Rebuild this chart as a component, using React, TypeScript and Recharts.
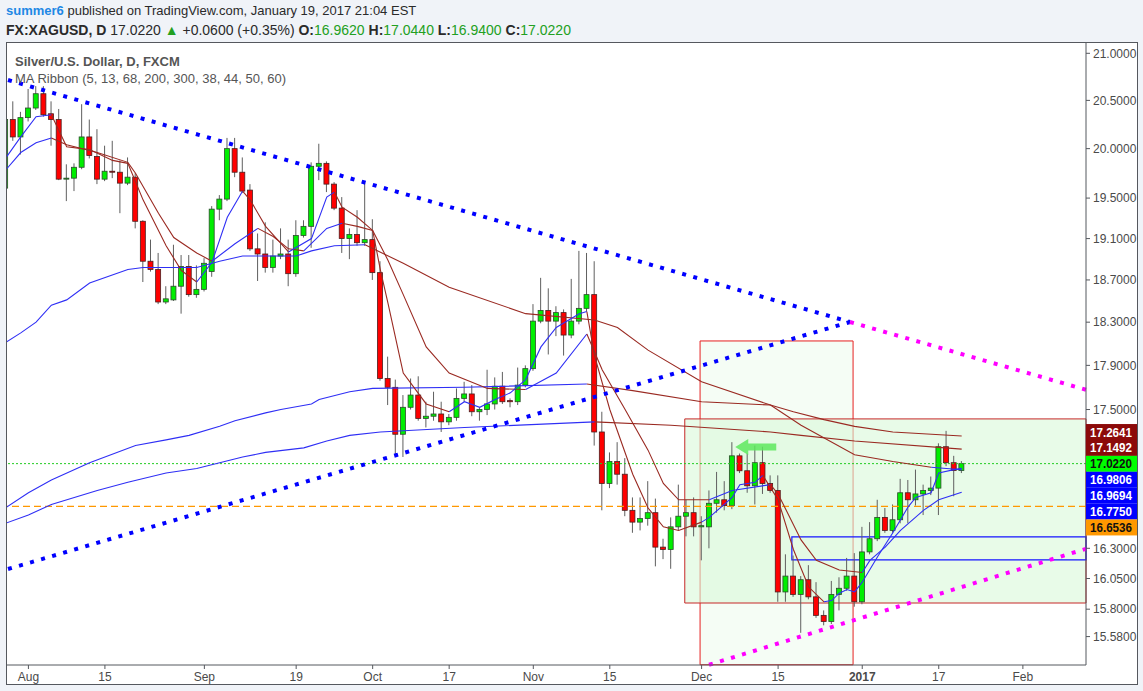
import React from "react";
import {
  ComposedChart,
  Bar,
  Line,
  XAxis,
  YAxis,
  ReferenceLine,
  ReferenceArea,
  ReferenceDot,
} from "recharts";

// daily XAG/USD bars, index 0 = Jul 27 2016 ... 125 = Jan 20 2017
const openP = [
  19.6, 20.3, 20.12, 20.32, 20.42, 20.57, 20.36, 20.3, 19.69, 19.7,
  19.81, 20.12, 19.92, 19.69, 19.77, 19.76, 19.65, 19.71, 19.27, 18.88,
  18.8, 18.49, 18.51, 18.64, 18.83, 18.56, 18.61, 18.78, 19.39, 19.49,
  20.0, 19.76, 19.58, 19.0, 18.95, 18.82, 18.93, 18.95, 18.76, 19.13,
  19.22, 19.82, 19.85, 19.64, 19.4, 19.1, 19.14, 19.06, 19.09, 18.77,
  17.78, 17.7, 17.28, 17.52, 17.63, 17.42, 17.44, 17.46, 17.39, 17.43,
  17.6, 17.64, 17.48, 17.5, 17.55, 17.71, 17.58, 17.57, 17.72, 17.87,
  18.31, 18.41, 18.31, 18.39, 18.18, 18.31, 18.43, 18.56, 17.3, 16.85,
  17.04, 16.93, 16.62, 16.52, 16.55, 16.6, 16.31, 16.29, 16.48, 16.57,
  16.6, 16.48, 16.48, 16.68, 16.71, 16.66, 17.09, 16.96, 16.83, 17.03,
  16.85, 16.79, 15.94, 16.07, 15.92, 16.04, 15.9, 15.75, 15.7, 15.92,
  15.97, 16.07, 15.86, 16.27, 16.38, 16.56, 16.45, 16.54, 16.77, 16.71,
  16.76, 16.79, 16.81, 17.17, 17.03, 16.962,
];
const highP = [
  20.35, 20.49, 20.38, 20.62, 20.65, 20.65, 20.49, 20.41, 19.84, 19.85,
  20.46, 20.3, 20.2, 20.03, 20.08, 19.88, 19.91, 19.75, 19.28, 19.09,
  18.96, 18.64, 19.04, 18.94, 18.94, 18.84, 18.91, 19.42, 19.53, 20.11,
  20.11, 19.91, 19.64, 19.15, 19.26, 19.09, 19.2, 19.09, 19.28, 19.28,
  19.86, 20.05, 19.87, 19.66, 19.51, 19.2, 19.38, 19.65, 19.29, 18.88,
  17.98, 17.77, 17.63, 17.78, 17.8, 17.57, 17.66, 17.57, 17.46, 17.69,
  17.75, 17.72, 17.52, 17.86, 17.79, 17.84, 17.6, 17.88, 17.9, 18.47,
  18.72, 18.62, 18.45, 18.42, 18.71, 18.98, 18.96, 18.88, 17.48, 17.12,
  17.21, 17.07, 16.73, 16.73, 16.87, 16.72, 16.38, 16.56, 16.84, 16.71,
  16.73, 16.57, 16.79, 16.95, 16.87, 17.21, 17.11, 17.11, 17.18, 17.17,
  16.92, 16.92, 16.25, 16.24, 16.07, 16.16, 16.02, 15.79, 16.03, 16.06,
  16.22, 16.26, 16.48, 16.52, 16.71, 16.64, 16.67, 16.89, 16.88, 16.97,
  16.84, 16.91, 17.2, 17.31, 17.09, 17.044,
];
const lowP = [
  19.55, 20.08, 19.94, 20.28, 20.4, 20.33, 20.03, 19.68, 19.47, 19.57,
  19.79, 19.9, 19.64, 19.67, 19.7, 19.35, 19.63, 19.2, 18.68, 18.78,
  18.47, 18.47, 18.5, 18.38, 18.54, 18.53, 18.59, 18.73, 19.28, 19.47,
  19.71, 19.55, 18.98, 18.69, 18.77, 18.77, 18.9, 18.64, 18.73, 19.11,
  19.01, 19.68, 19.56, 19.38, 18.96, 18.9, 19.03, 19.03, 18.7, 17.76,
  17.54, 17.09, 17.08, 17.5, 17.4, 17.34, 17.4, 17.3, 17.36, 17.4,
  17.57, 17.44, 17.4, 17.45, 17.5, 17.55, 17.52, 17.54, 17.7, 17.85,
  18.29, 18.0, 18.17, 17.99, 18.15, 18.28, 18.4, 17.18, 16.62, 16.81,
  16.84, 16.57, 16.43, 16.45, 16.49, 16.15, 16.21, 16.13, 16.45, 16.4,
  16.4, 16.2, 16.3, 16.6, 16.62, 16.63, 16.94, 16.77, 16.67, 16.76,
  16.77, 15.86, 15.86, 15.9, 15.61, 15.88, 15.73, 15.67, 15.68, 15.79,
  15.95, 15.82, 15.84, 16.25, 16.36, 16.43, 16.43, 16.51, 16.51, 16.66,
  16.58, 16.75, 16.58, 17.0, 16.74, 16.94,
];
const closeP = [
  20.3, 20.12, 20.32, 20.42, 20.57, 20.35, 20.3, 19.69, 19.7, 19.81,
  20.12, 19.93, 19.69, 19.77, 19.76, 19.65, 19.71, 19.27, 18.88, 18.8,
  18.49, 18.52, 18.64, 18.83, 18.56, 18.61, 18.86, 19.39, 19.49, 20.0,
  19.76, 19.57, 19.0, 18.95, 18.82, 18.93, 18.95, 18.76, 19.13, 19.22,
  19.82, 19.85, 19.64, 19.4, 19.1, 19.14, 19.06, 19.09, 18.77, 17.78,
  17.7, 17.28, 17.52, 17.63, 17.42, 17.44, 17.46, 17.39, 17.43, 17.6,
  17.64, 17.48, 17.5, 17.55, 17.71, 17.57, 17.57, 17.72, 17.87, 18.31,
  18.41, 18.31, 18.39, 18.18, 18.31, 18.43, 18.56, 17.3, 16.85, 17.04,
  16.93, 16.62, 16.52, 16.55, 16.6, 16.31, 16.29, 16.48, 16.57, 16.6,
  16.48, 16.49, 16.68, 16.71, 16.66, 17.09, 16.96, 16.83, 17.03, 16.85,
  16.79, 15.94, 16.07, 15.92, 16.04, 15.9, 15.75, 15.7, 15.92, 15.97,
  16.07, 15.86, 16.27, 16.38, 16.56, 16.45, 16.54, 16.77, 16.71, 16.76,
  16.79, 16.81, 17.17, 17.03, 16.962, 17.022,
];

const tickIdx = [3, 13, 26, 38, 48, 58, 69, 79, 91, 101, 112, 122, 133];
const tickText = ["Aug", "15", "Sep", "19", "Oct", "17", "Nov", "15", "Dec", "15", "2017", "17", "Feb"];
const priceTicks = [21, 20.5, 20, 19.5, 19.1, 18.7, 18.3, 17.9, 17.5, 16.3, 16.05, 15.8, 15.58];

// MA ribbon: [bar index, value, colour of the stretch that follows]
const ma5Pts: [number, number, string][] = [
  [0, 19.9, "b"], [2, 20.12, "b"], [4, 20.33, "b"], [6, 20.35, "r"], [8, 20.02, "r"], [11, 19.99, "r"],
  [14, 19.88, "r"], [16, 19.85, "r"], [18, 19.48, "r"], [21, 19.03, "r"], [23, 18.79, "r"], [25, 18.68, "b"],
  [27, 18.87, "b"], [29, 19.31, "b"], [31, 19.57, "r"], [32, 19.48, "r"], [34, 19.22, "r"], [37, 18.97, "b"],
  [40, 19.1, "b"], [42, 19.51, "b"], [43, 19.56, "r"], [44, 19.41, "r"], [46, 19.31, "r"], [48, 19.18, "r"],
  [49, 18.8, "r"], [50, 18.48, "r"], [52, 17.83, "r"], [55, 17.55, "r"], [58, 17.48, "b"], [60, 17.57, "b"],
  [62, 17.52, "b"], [64, 17.59, "b"], [66, 17.65, "b"], [68, 17.77, "b"], [70, 18.07, "b"], [72, 18.25, "b"],
  [75, 18.38, "b"], [76, 18.4, "r"], [77, 17.99, "r"], [79, 17.5, "r"], [82, 16.93, "r"], [84, 16.64, "r"],
  [86, 16.48, "r"], [88, 16.45, "r"], [91, 16.52, "b"], [92, 16.56, "b"], [95, 16.73, "b"], [96, 16.84, "b"],
  [98, 16.86, "b"], [99, 16.92, "r"], [101, 16.71, "r"], [103, 16.29, "r"], [105, 15.98, "r"], [107, 15.86, "b"],
  [108, 15.87, "b"], [109, 15.93, "b"], [110, 15.96, "b"], [111, 15.94, "b"], [112, 16.02, "b"], [114, 16.23, "b"],
  [116, 16.43, "b"], [118, 16.65, "b"], [119, 16.73, "b"], [121, 16.77, "b"], [122, 16.94, "b"], [124, 16.97, "b"],
  [125, 16.9806, "b"],
];
const ma13Pts: [number, number, string][] = [
  [0, 19.78, "b"], [2, 19.96, "b"], [4, 20.06, "b"], [6, 20.11, "r"], [8, 20.04, "r"], [12, 19.96, "r"],
  [16, 19.86, "r"], [17, 19.75, "r"], [20, 19.35, "r"], [22, 19.11, "r"], [25, 18.96, "r"], [27, 18.88, "b"],
  [30, 19.05, "b"], [33, 19.2, "r"], [35, 19.12, "r"], [37, 19.0, "r"], [39, 18.98, "b"], [42, 19.2, "b"],
  [44, 19.25, "r"], [46, 19.22, "r"], [48, 19.18, "r"], [50, 18.89, "r"], [52, 18.56, "r"], [55, 18.07, "r"],
  [58, 17.83, "r"], [63, 17.69, "r"], [68, 17.68, "b"], [72, 17.83, "b"], [76, 18.19, "r"], [78, 17.86, "r"],
  [81, 17.5, "r"], [84, 17.14, "r"], [86, 16.85, "r"], [88, 16.71, "r"], [92, 16.71, "b"], [95, 16.79, "b"],
  [100, 16.84, "r"], [101, 16.76, "r"], [104, 16.37, "r"], [106, 16.2, "r"], [109, 16.12, "r"], [112, 16.1, "b"],
  [113, 16.2, "b"], [115, 16.31, "b"], [117, 16.45, "b"], [120, 16.62, "b"], [122, 16.71, "b"], [125, 16.775, "b"],
];
const ma68Pts: [number, number, string][] = [
  [0, 18.11, "b"], [2, 18.2, "b"], [4, 18.3, "b"], [6, 18.46, "b"], [8, 18.51, "b"], [11, 18.67, "b"],
  [16, 18.8, "b"], [18, 18.82, "b"], [25, 18.82, "b"], [28, 18.88, "b"], [31, 18.93, "b"], [38, 18.93, "b"],
  [40, 18.98, "b"], [43, 19.03, "b"], [47, 19.04, "r"], [52, 18.86, "r"], [58, 18.63, "r"], [68, 18.38, "r"],
  [77, 18.32, "r"], [80, 18.25, "r"], [84, 18.04, "r"], [91, 17.75, "r"], [100, 17.54, "r"], [104, 17.36, "r"],
  [111, 17.1, "r"], [116, 17.04, "r"], [121, 16.99, "b"], [125, 16.9694, "b"],
];
const ma200Pts: [number, number, string][] = [
  [0, 16.64, "b"], [3, 16.77, "b"], [6, 16.88, "b"], [11, 17.03, "b"], [17, 17.18, "b"], [21, 17.23, "b"],
  [24, 17.27, "b"], [28, 17.35, "b"], [30, 17.4, "b"], [34, 17.47, "b"], [36, 17.5, "b"], [40, 17.55, "b"],
  [41, 17.59, "b"], [45, 17.66, "b"], [48, 17.69, "b"], [60, 17.7, "b"], [76, 17.73, "r"], [82, 17.67, "r"],
  [91, 17.57, "r"], [100, 17.54, "r"], [103, 17.48, "r"], [107, 17.41, "r"], [111, 17.35, "r"], [116, 17.3, "r"],
  [125, 17.2641, "r"],
];
const ma300Pts: [number, number, string][] = [
  [0, 16.51, "b"], [3, 16.58, "b"], [6, 16.67, "b"], [12, 16.79, "b"], [16, 16.86, "b"], [21, 16.94, "b"],
  [25, 16.98, "b"], [28, 17.03, "b"], [31, 17.08, "b"], [34, 17.12, "b"], [39, 17.16, "b"], [42, 17.22, "b"],
  [45, 17.27, "b"], [49, 17.3, "b"], [60, 17.34, "b"], [77, 17.39, "r"], [87, 17.36, "r"], [100, 17.3, "r"],
  [104, 17.27, "r"], [111, 17.22, "r"], [125, 17.1492, "r"],
];

// drawings
const upperTrend = [{ x: 0.33, y: 20.715 }, { x: 110.4, y: 18.302 }];
const upperTrendExt = [{ x: 110.4, y: 18.302 }, { x: 141.25, y: 17.678 }];
const lowerTrend = [{ x: 0.33, y: 16.128 }, { x: 110.4, y: 18.302 }];
const lowerTrendExt = [{ x: 91.97, y: 15.357 }, { x: 141.25, y: 16.296 }];
const boxTall = { x1: 90.8, x2: 110.8, y1: 15.357, y2: 18.125 };
const boxWide = { x1: 88.8, x2: 141.25, y1: 15.85, y2: 17.416 };
const boxBlue = { x1: 102.8, x2: 141.25, y1: 16.203, y2: 16.395 };
const arrowAt = { x: 95.4, y: 17.167 };
const orangeLevel = 16.6536;
const lastPrice = 17.022;

const priceTags = [
  { v: 17.2641, bg: "#8c0a0a", fg: "#ffffff" },
  { v: 17.1492, bg: "#8c0a0a", fg: "#ffffff" },
  { v: 17.022, bg: "#00ff00", fg: "#111111" },
  { v: 16.9806, bg: "#0000ff", fg: "#ffffff" },
  { v: 16.9694, bg: "#0000ff", fg: "#ffffff" },
  { v: 16.775, bg: "#0000ff", fg: "#ffffff" },
  { v: 16.6536, bg: "#ff9800", fg: "#111111" },
];

const candles = openP.map((o, i) => ({
  i,
  open: o,
  high: highP[i],
  low: lowP[i],
  close: closeP[i],
}));

const BLUE = "#2f2ff5";
const MAROON = "#9a2a22";
const FONT = '"Liberation Sans", Arial, sans-serif';

function segments(pts: [number, number, string][]) {
  const segs: { color: string; data: { i: number; v: number }[] }[] = [];
  let cur: { color: string; data: { i: number; v: number }[] } | null = null;
  pts.forEach(([i, v, c]) => {
    if (!cur || cur.color !== c) {
      if (cur) cur.data.push({ i, v });
      cur = { color: c, data: [] };
      segs.push(cur);
    }
    cur.data.push({ i, v });
  });
  return segs.filter((s) => s.data.length > 1);
}

const ribbon = [ma300Pts, ma200Pts, ma68Pts, ma13Pts, ma5Pts].flatMap((pts) => segments(pts));

const Candle = (props: any) => {
  const { x, y, width, height, payload } = props;
  if (x == null || y == null) return null;
  const top = Math.min(y, y + height);
  const h = Math.abs(height);
  const cx = x + width / 2;
  const lh = Math.log(payload.high);
  const ll = Math.log(payload.low);
  const toY = (p: number) => (lh === ll ? top : top + ((lh - Math.log(p)) / (lh - ll)) * h);
  const up = payload.close >= payload.open;
  const bTop = toY(Math.max(payload.open, payload.close));
  const bBot = toY(Math.min(payload.open, payload.close));
  return (
    <g>
      <line x1={cx} x2={cx} y1={top} y2={top + h} stroke="#5f5f5f" strokeWidth={1} />
      <rect
        x={cx - 2.5}
        y={bTop}
        width={5}
        height={Math.max(1, bBot - bTop)}
        fill={up ? "#00ee00" : "#ff0000"}
        stroke={up ? "#2b4a2b" : "#4a1f1f"}
        strokeWidth={0.8}
      />
    </g>
  );
};

const Arrow = (props: any) => {
  const { cx, cy } = props;
  if (cx == null) return null;
  return (
    <path
      d={`M${cx},${cy} L${cx + 13},${cy - 8} L${cx + 13},${cy - 3.5} L${cx + 41},${cy - 3.5} L${cx + 41},${cy + 3.5} L${cx + 13},${cy + 3.5} L${cx + 13},${cy + 8} Z`}
      fill="#5ee85e"
      fillOpacity={0.85}
    />
  );
};

const Tags = (props: any) => {
  const { cx, cy } = props;
  if (cx == null) return null;
  return (
    <g>
      {priceTags.map((t, k) => {
        const yc = cy - 4 + k * 15.9;
        return (
          <g key={k}>
            <rect x={cx} y={yc - 8} width={51} height={16} fill={t.bg} />
            <text
              x={cx + 4}
              y={yc + 4.5}
              fill={t.fg}
              fontSize={12}
              fontWeight="bold"
              fontFamily={FONT}
              textLength={42}
              lengthAdjust="spacingAndGlyphs"
            >
              {t.v.toFixed(4)}
            </text>
          </g>
        );
      })}
    </g>
  );
};

const XTick = (props: any) => {
  const { x, y, payload } = props;
  const k = tickIdx.indexOf(payload.value);
  const txt = tickText[k] ?? "";
  return (
    <text
      x={x}
      y={y + 10}
      textAnchor="middle"
      fontSize={12}
      fill="#4a4a4a"
      fontFamily={FONT}
      fontWeight={txt === "2017" ? "bold" : "normal"}
    >
      {txt}
    </text>
  );
};

const dots = { strokeWidth: 4, strokeDasharray: "4 7.5" };

export default function App() {
  return (
    <div
      style={{
        position: "absolute",
        left: 0,
        top: 0,
        width: 1143,
        height: 691,
        background: "#f0f3f8",
        fontFamily: FONT,
        overflow: "hidden",
      }}
    >
      <div style={{ position: "absolute", left: 6, top: 2, fontSize: 13, lineHeight: "18px", color: "#2a2a2a", whiteSpace: "nowrap" }}>
        <span style={{ color: "#1e88e5", fontWeight: "bold" }}>summer6</span> published on TradingView.com, January 19, 2017 21:04 EST
      </div>
      <div style={{ position: "absolute", left: 6, top: 21, fontSize: 14, lineHeight: "18px", color: "#2a2a2a", whiteSpace: "nowrap" }}>
        <b>FX:XAGUSD, D</b> 17.0220 <span style={{ color: "#22a022" }}>▲</span> +0.0600 (+0.35%){" "}
        <b>O:</b><span style={{ color: "#22a022" }}>16.9620</span> <b>H:</b><span style={{ color: "#22a022" }}>17.0440</span>{" "}
        <b>L:</b><span style={{ color: "#22a022" }}>16.9400</span> <b>C:</b><span style={{ color: "#22a022" }}>17.0220</span>
      </div>
      <div
        style={{
          position: "absolute",
          left: 6,
          top: 42,
          width: 1130,
          height: 641,
          border: "1px solid #55585e",
          background: "#ffffff",
        }}
      >
        <ComposedChart
          width={1130}
          height={641}
          data={candles}
          margin={{ top: 0, right: 0, bottom: 0, left: 0 }}
        >
          <XAxis
            dataKey="i"
            type="number"
            domain={[0.2, 141.25]}
            allowDataOverflow
            ticks={tickIdx}
            interval={0}
            tick={<XTick />}
            tickSize={4}
            height={19}
            axisLine={{ stroke: "#55585e" }}
            tickLine={{ stroke: "#55585e" }}
          />
          <YAxis
            orientation="right"
            scale="log"
            domain={[15.355, 21.111]}
            allowDataOverflow
            ticks={priceTicks}
            interval={0}
            tickFormatter={(v: number) => v.toFixed(4)}
            width={51}
            tickSize={4}
            tickMargin={3}
            tick={{ fontSize: 12, fill: "#4a4a4a", fontFamily: FONT }}
            axisLine={{ stroke: "#55585e" }}
            tickLine={{ stroke: "#55585e" }}
          />
          <ReferenceArea {...boxTall} fill="#f1fcf1" fillOpacity={0.7} stroke="#e62020" strokeWidth={1} />
          <ReferenceArea {...boxWide} fill="#d8f8d8" fillOpacity={0.6} stroke="#c62828" strokeWidth={1} />
          <ReferenceArea {...boxBlue} fill="none" fillOpacity={0} stroke="#1515ff" strokeWidth={1.2} />
          <ReferenceLine y={orangeLevel} stroke="#ff9800" strokeWidth={1.3} strokeDasharray="7 4" />
          <ReferenceLine y={lastPrice} stroke="#22cc22" strokeWidth={1} strokeDasharray="2 2" />
          <Bar
            dataKey={(d: any) => [d.low, d.high]}
            shape={<Candle />}
            barSize={5}
            isAnimationActive={false}
          />
          {ribbon.map((s, k) => (
            <Line
              key={k}
              data={s.data}
              dataKey="v"
              type="linear"
              stroke={s.color === "b" ? BLUE : MAROON}
              strokeWidth={1.1}
              dot={false}
              activeDot={false}
              isAnimationActive={false}
            />
          ))}
          <ReferenceLine segment={upperTrend} stroke="#0000ff" {...dots} />
          <ReferenceLine segment={lowerTrend} stroke="#0000ff" {...dots} />
          <ReferenceLine segment={upperTrendExt} stroke="#ff00ff" {...dots} />
          <ReferenceLine segment={lowerTrendExt} stroke="#ff00ff" {...dots} />
          <ReferenceDot x={arrowAt.x} y={arrowAt.y} shape={<Arrow />} />
          <ReferenceDot x={141.25} y={priceTags[0].v} shape={<Tags />} ifOverflow="visible" />
        </ComposedChart>
        <div style={{ position: "absolute", left: 8, top: 11, fontSize: 13, fontWeight: "bold", color: "#555" }}>
          Silver/U.S. Dollar, D, FXCM
        </div>
        <div style={{ position: "absolute", left: 8, top: 28, fontSize: 13, color: "#555" }}>
          MA Ribbon (5, 13, 68, 200, 300, 38, 44, 50, 60)
        </div>
      </div>
    </div>
  );
}
